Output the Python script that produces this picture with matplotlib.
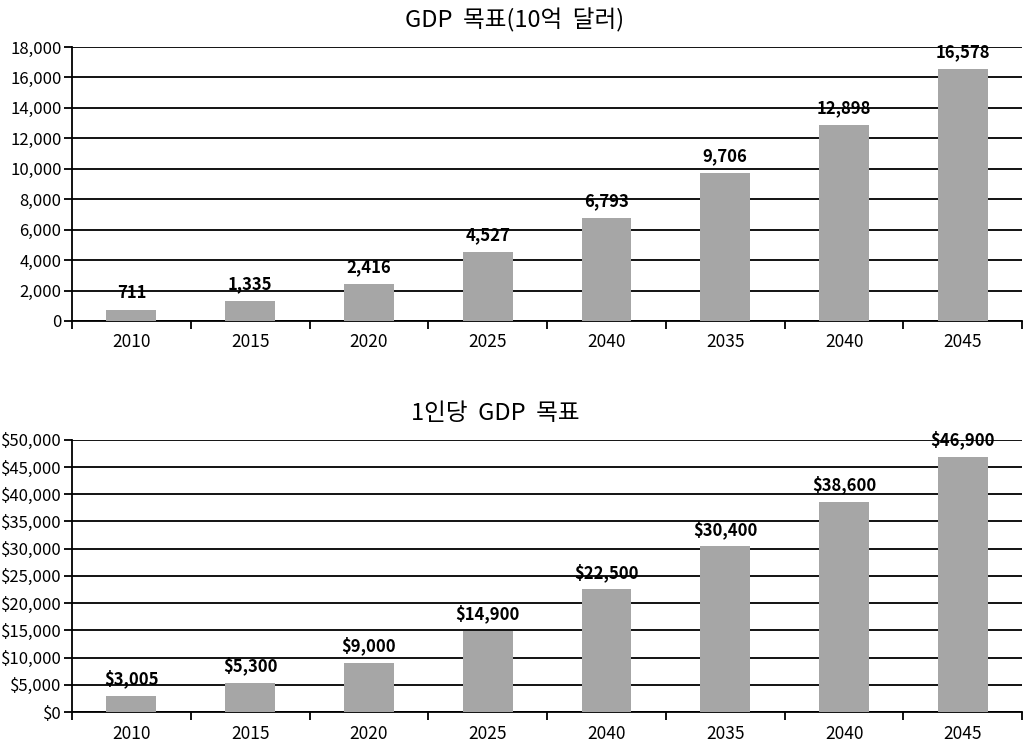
import matplotlib
matplotlib.use("Agg")
import matplotlib.pyplot as plt
from matplotlib.ticker import FuncFormatter, MultipleLocator, FixedLocator

plt.rcParams['font.family'] = ['Noto Sans CJK KR', 'DejaVu Sans']

years = ["2010", "2015", "2020", "2025", "2040", "2035", "2040", "2045"]
gdp = [711, 1335, 2416, 4527, 6793, 9706, 12898, 16578]
gdp_pc = [3005, 5300, 9000, 14900, 22500, 30400, 38600, 46900]
title_top = "GDP  목표(10억  달러)"
title_bot = "1인당  GDP  목표"

bar_color = "#a6a6a6"

fig = plt.figure(figsize=(10.24, 7.43), dpi=100)
ax1 = fig.add_axes([0.0703, 0.568, 0.928, 0.3687])
ax2 = fig.add_axes([0.0703, 0.0417, 0.928, 0.3665])

def style(ax, vals, ymax, step, fmt, labfmt, title, tx):
    x = list(range(len(vals)))
    ax.bar(x, vals, width=0.42, color=bar_color, zorder=3)
    ax.set_xlim(-0.5, len(vals) - 0.5)
    ax.set_ylim(0, ymax)
    ax.yaxis.set_major_locator(MultipleLocator(step))
    ax.yaxis.set_major_formatter(FuncFormatter(fmt))
    ax.grid(axis='y', color='black', linewidth=1.3, zorder=1)
    ax.set_axisbelow(True)
    ax.xaxis.set_major_locator(FixedLocator([i - 0.5 for i in range(len(vals) + 1)]))
    ax.xaxis.set_major_formatter(FuncFormatter(lambda v, p: ""))
    ax.xaxis.set_minor_locator(FixedLocator(x))
    ax.set_xticklabels(years, minor=True)
    ax.tick_params(axis='x', which='major', length=6, width=1.3, direction='out')
    ax.tick_params(axis='x', which='minor', length=0, labelsize=12.5, pad=9)
    ax.tick_params(axis='y', length=6, width=1.3, labelsize=12, pad=1.5)
    for s in ['top', 'right']:
        ax.spines[s].set_visible(False)
    for s in ['left', 'bottom']:
        ax.spines[s].set_linewidth(1.3)
    for xi, v in zip(x, vals):
        ax.text(xi, v + ymax * 0.028, labfmt(v), ha='center', va='bottom',
                fontsize=12, fontweight='bold', zorder=4)
    ax.set_title(title, fontsize=17, fontweight='normal', pad=14, x=tx)

style(ax1, gdp, 18000, 2000, lambda v, p: f"{int(v):,}", lambda v: f"{v:,}", title_top, 0.466)
style(ax2, gdp_pc, 50000, 5000, lambda v, p: f"${int(v):,}", lambda v: f"${v:,}", title_bot, 0.445)

fig.savefig("out.png", dpi=100)
